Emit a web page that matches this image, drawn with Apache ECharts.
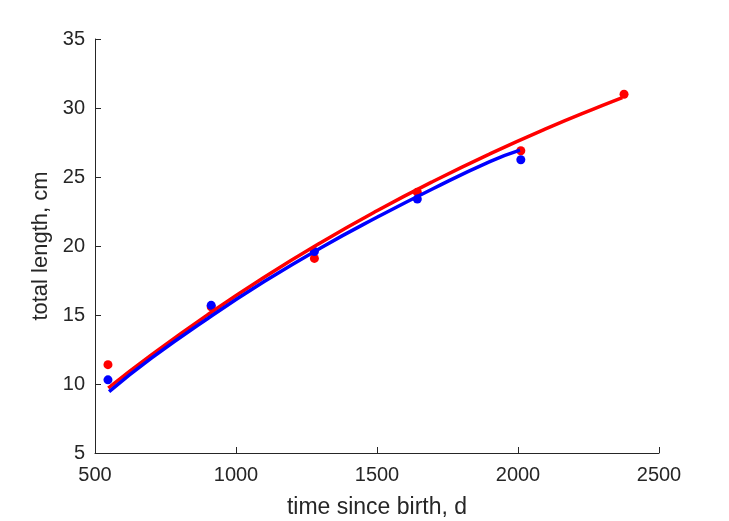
<!DOCTYPE html>
<html>
<head>
<meta charset="utf-8">
<script src="https://cdn.jsdelivr.net/npm/echarts@6/dist/echarts.min.js"></script>
<style>html,body{margin:0;padding:0;background:#fff;}#c{width:729px;height:521px;}</style>
</head>
<body>
<div id="c"></div>
<script>
// observed data points
var redPointsT = [546, 912, 1278, 1643, 2010, 2376];
var redPointsL = [11.4, 15.6, 19.1, 23.9, 26.9, 31.0];
var bluePointsT = [546, 912, 1278, 1643, 2010];
var bluePointsL = [10.3, 15.7, 19.6, 23.4, 26.25];
// fitted curves
var redCurveT = [547, 700, 900, 1100, 1300, 1500, 1700, 1900, 2100, 2300, 2370];
var redCurveL = [9.71, 12.11, 15.03, 17.74, 20.24, 22.55, 24.69, 26.67, 28.50, 30.19, 30.76];
var blueCurveT = [550, 700, 900, 1100, 1300, 1500, 1700, 1900, 2007];
var blueCurveL = [9.45, 11.87, 14.75, 17.42, 19.86, 22.08, 24.17, 26.12, 26.95];
var xTicks = [500, 1000, 1500, 2000, 2500];
var yTicks = [5, 10, 15, 20, 25, 30, 35];

function zip(a, b) { return a.map(function (v, i) { return [v, b[i]]; }); }

var axisColor = '#262626';
var font = 'Liberation Sans, Arial, Helvetica, sans-serif';
var chart = echarts.init(document.getElementById('c'), null, { renderer: 'canvas' });
chart.setOption({
  animation: false,
  backgroundColor: '#ffffff',
  grid: { left: 95, right: 70, top: 39, bottom: 68, containLabel: false, outerBoundsMode: 'none' },
  xAxis: {
    type: 'value', min: xTicks[0], max: xTicks[xTicks.length - 1], interval: 500,
    name: 'time since birth, d', nameLocation: 'middle', nameGap: 43,
    nameTextStyle: { color: axisColor, fontSize: 23, fontFamily: font },
    axisLine: { show: true, lineStyle: { color: axisColor, width: 1 } },
    axisTick: { show: true, inside: true, length: 6, lineStyle: { color: axisColor } },
    axisLabel: { color: axisColor, fontSize: 20, fontFamily: font, margin: 12,
      formatter: function (v) { return String(v); } },
    splitLine: { show: false }
  },
  yAxis: {
    type: 'value', min: yTicks[0], max: yTicks[yTicks.length - 1], interval: 5,
    name: 'total length, cm', nameLocation: 'middle', nameGap: 30,
    nameTextStyle: { color: axisColor, fontSize: 22, fontFamily: font },
    axisLine: { show: true, lineStyle: { color: axisColor, width: 1 } },
    axisTick: { show: true, inside: true, length: 6, lineStyle: { color: axisColor } },
    axisLabel: { color: axisColor, fontSize: 20, fontFamily: font, margin: 10,
      formatter: function (v) { return String(v); } },
    splitLine: { show: false }
  },
  series: [
    { type: 'scatter', data: zip(redPointsT, redPointsL), symbolSize: 9, itemStyle: { color: '#ff0000', opacity: 1 }, z: 2 },
    { type: 'scatter', data: zip(bluePointsT, bluePointsL), symbolSize: 9, itemStyle: { color: '#0000ff', opacity: 1 }, z: 3 },
    { type: 'line', data: zip(redCurveT, redCurveL), smooth: true, showSymbol: false, lineStyle: { color: '#ff0000', width: 3.5 }, z: 4 },
    { type: 'line', data: zip(blueCurveT, blueCurveL), smooth: true, showSymbol: false, lineStyle: { color: '#0000ff', width: 3.5 }, z: 5 }
  ]
});
</script>
</body>
</html>
